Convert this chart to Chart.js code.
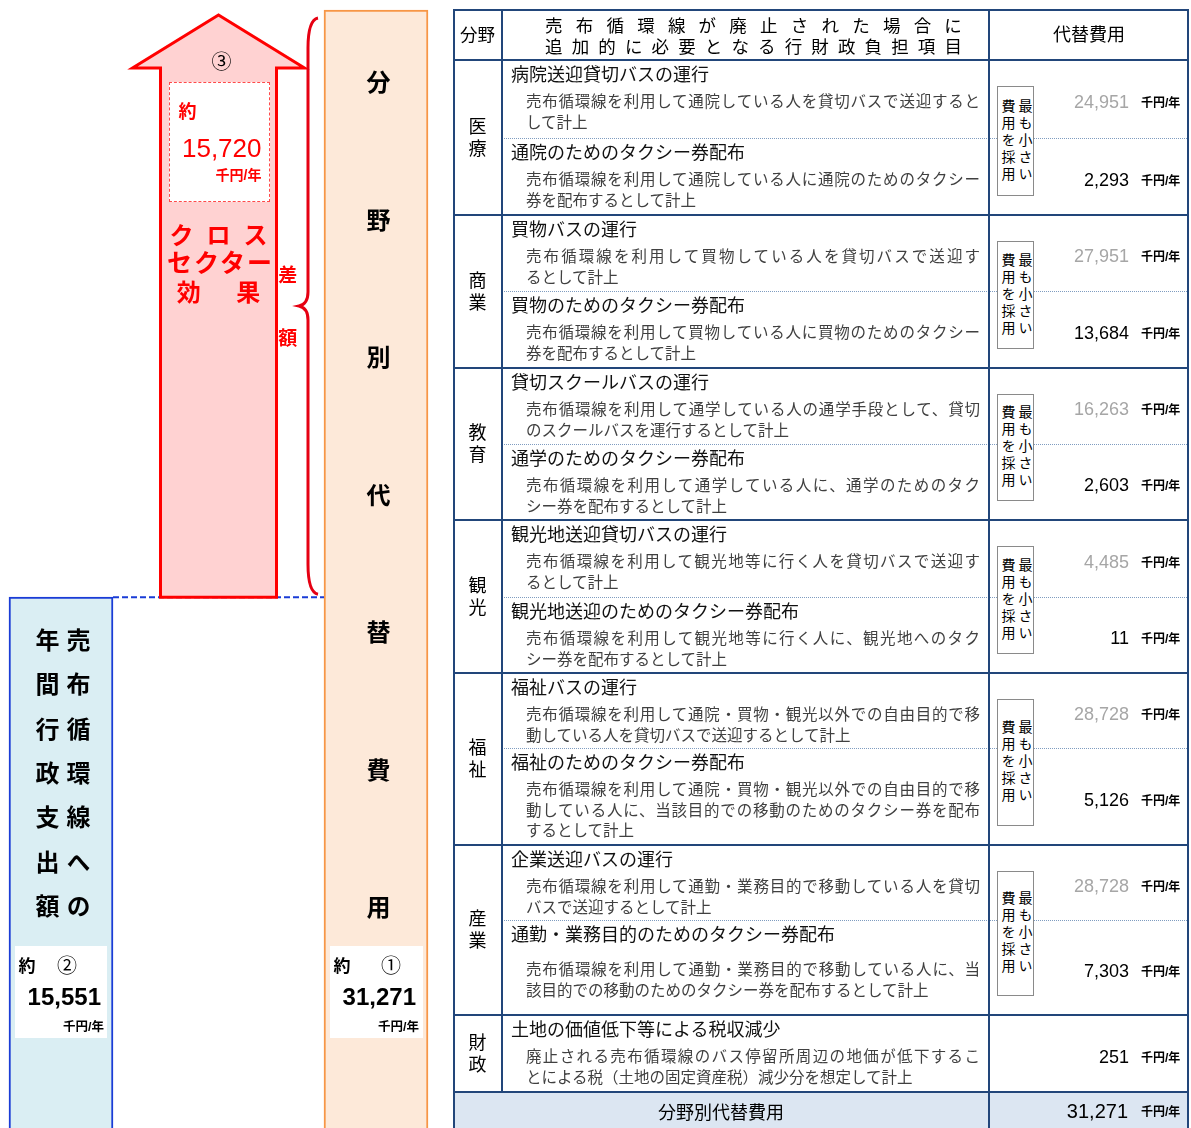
<!DOCTYPE html>
<html lang="ja">
<head>
<meta charset="utf-8">
<script src="https://cdn.jsdelivr.net/npm/chart.js"></script>
<style>
  body { margin: 0; width: 1191px; height: 1128px; overflow: hidden; background: #fff;
         font-family: "Liberation Sans", "Noto Sans CJK JP", sans-serif; color: #000; }
  #chartBox { position: absolute; left: 0; top: 0; width: 440px; height: 1178px; }
  #layer { position: absolute; left: 0; top: 0; width: 1191px; height: 1128px; }
  .abs { position: absolute; box-sizing: border-box; white-space: nowrap; }
  .vert { writing-mode: vertical-rl; text-orientation: upright; }
  .red { color: #ff0000; font-weight: bold; }
  .unit { font-size: 12px; font-weight: bold; }
  .field { display: flex; align-items: center; justify-content: center; text-align: center;
           font-size: 18px; line-height: 22px; }
  .title { font-size: 18px; line-height: 22px; color: #111; }
  .note { font-size: 15.5px; line-height: 20.5px; color: #404040; }
  .note.full { text-align: justify; text-align-last: justify; }
  .spread { display: flex; justify-content: space-between; font-size: 17.5px; line-height: 22px; }
  .pick { border: 1px solid #8a8a8a; background: #fff; display: flex; align-items: center;
          justify-content: center; font-size: 14px; line-height: 17px; letter-spacing: 3px; }
</style>
</head>
<body>
<div id="chartBox"><canvas id="gap" width="440" height="1178"></canvas></div>
<div id="layer"></div>

<script>
// ---- data ----
const fields = ['医療', '商業', '教育', '観光', '福祉', '産業', '財政'];

const itemA = ['病院送迎貸切バスの運行', '買物バスの運行', '貸切スクールバスの運行',
  '観光地送迎貸切バスの運行', '福祉バスの運行', '企業送迎バスの運行', '土地の価値低下等による税収減少'];
const noteA = [
  ['売布循環線を利用して通院している人を貸切バスで送迎すると', 'して計上'],
  ['売布循環線を利用して買物している人を貸切バスで送迎す', 'るとして計上'],
  ['売布循環線を利用して通学している人の通学手段として、貸切', 'のスクールバスを運行するとして計上'],
  ['売布循環線を利用して観光地等に行く人を貸切バスで送迎す', 'るとして計上'],
  ['売布循環線を利用して通院・買物・観光以外での自由目的で移', '動している人を貸切バスで送迎するとして計上'],
  ['売布循環線を利用して通勤・業務目的で移動している人を貸切', 'バスで送迎するとして計上'],
  ['廃止される売布循環線のバス停留所周辺の地価が低下するこ', 'とによる税（土地の固定資産税）減少分を想定して計上']
];
const costA = [24951, 27951, 16263, 4485, 28728, 28728, 251];

const itemB = ['通院のためのタクシー券配布', '買物のためのタクシー券配布', '通学のためのタクシー券配布',
  '観光地送迎のためのタクシー券配布', '福祉のためのタクシー券配布', '通勤・業務目的のためのタクシー券配布', null];
const noteB = [
  ['売布循環線を利用して通院している人に通院のためのタクシー', '券を配布するとして計上'],
  ['売布循環線を利用して買物している人に買物のためのタクシー', '券を配布するとして計上'],
  ['売布循環線を利用して通学している人に、通学のためのタク', 'シー券を配布するとして計上'],
  ['売布循環線を利用して観光地等に行く人に、観光地へのタク', 'シー券を配布するとして計上'],
  ['売布循環線を利用して通院・買物・観光以外での自由目的で移', '動している人に、当該目的での移動のためのタクシー券を配布', 'するとして計上'],
  ['売布循環線を利用して通勤・業務目的で移動している人に、当', '該目的での移動のためのタクシー券を配布するとして計上'],
  null
];
const costB = [2293, 13684, 2603, 11, 5126, 7303, null];

const adminSpending = 15551;   // ② 年間行政支出額
const barLabels = ['売布循環線への年間行政支出額', '差額', '分野別代替費用'];

// the cheaper option is adopted in each field
const adopted = fields.map((f, i) => costB[i] == null ? costA[i] : Math.min(costA[i], costB[i]));
const altTotal = adopted.reduce((a, b) => a + b, 0);   // ① 31,271
const crossSector = altTotal - adminSpending;           // ③ 15,720
const fmt = v => v.toLocaleString('en-US');

// ---- chart: two bars and the difference arrow ----
const gapPlugin = {
  id: 'gapArrow',
  afterDatasetsDraw(chart) {
    const ctx = chart.ctx;
    const ys = chart.scales.y;
    const bars = chart.getDatasetMeta(0).data;
    const arr = chart.getDatasetMeta(1).data[1];
    const lowY = ys.getPixelForValue(adminSpending);
    const highY = ys.getPixelForValue(altTotal);
    ctx.save();

    // dashed level line from the blue bar to the orange bar
    ctx.strokeStyle = '#1a3cd6';
    ctx.lineWidth = 2;
    ctx.setLineDash([6, 3]);
    ctx.beginPath();
    ctx.moveTo(bars[0].x + bars[0].width / 2, lowY);
    ctx.lineTo(bars[2].x - bars[2].width / 2, lowY);
    ctx.stroke();
    ctx.setLineDash([]);

    // arrow (shaft = floating bar, head on top)
    const half = arr.width / 2, tip = highY + 5, neck = tip + 53, wing = 28;
    ctx.beginPath();
    ctx.moveTo(arr.x - half, lowY);
    ctx.lineTo(arr.x - half, neck);
    ctx.lineTo(arr.x - half - wing, neck);
    ctx.lineTo(arr.x, tip);
    ctx.lineTo(arr.x + half + wing, neck);
    ctx.lineTo(arr.x + half, neck);
    ctx.lineTo(arr.x + half, lowY);
    ctx.closePath();
    ctx.fillStyle = '#ffd2d2';
    ctx.fill();
    ctx.strokeStyle = '#ff0000';
    ctx.lineWidth = 3;
    ctx.lineJoin = 'miter';
    ctx.stroke();

    // curly brace next to the orange bar
    const oL = bars[2].x - bars[2].width / 2;
    const xR = oL - 6, xM = oL - 16, xL = oL - 25;
    const yT = highY + 8, yB = lowY - 3, yC = (yT + yB) / 2;
    ctx.beginPath();
    ctx.moveTo(xR, yT);
    ctx.quadraticCurveTo(xM, yT + 2, xM, yT + 30);
    ctx.lineTo(xM, yC - 14);
    ctx.quadraticCurveTo(xM, yC - 2, xL, yC);
    ctx.quadraticCurveTo(xM, yC + 2, xM, yC + 14);
    ctx.lineTo(xM, yB - 30);
    ctx.quadraticCurveTo(xM, yB - 2, xR, yB);
    ctx.strokeStyle = '#e60012';
    ctx.lineWidth = 3;
    ctx.stroke();
    ctx.restore();
  }
};

const chart = new Chart(document.getElementById('gap'), {
  type: 'bar',
  data: {
    labels: barLabels,
    datasets: [
      {
        label: '金額',
        data: [adminSpending, null, altTotal],
        backgroundColor: ['#daeef3', 'rgba(0,0,0,0)', '#fde9d9'],
        borderColor: ['#1a3cd6', 'rgba(0,0,0,0)', '#f79646'],
        borderWidth: 2,
        barThickness: 104,
        grouped: false,
        clip: false
      },
      {
        label: '差額',
        data: [null, [adminSpending, altTotal], null],
        backgroundColor: 'rgba(0,0,0,0)',
        borderWidth: 0,
        barThickness: 116,
        grouped: false,
        clip: false
      }
    ]
  },
  options: {
    responsive: false,
    animation: false,
    events: [],
    layout: { padding: { left: 61, right: 64, top: 10, bottom: 0 } },
    scales: {
      x: { display: false, offset: false },
      y: { display: false, min: 0, max: altTotal }
    },
    plugins: { legend: { display: false }, tooltip: { enabled: false } }
  },
  plugins: [gapPlugin]
});

// ---- text layer ----
const layer = document.getElementById('layer');
function put(cls, l, t, w, h, html, css) {
  const d = document.createElement('div');
  d.className = 'abs ' + (cls || '');
  d.style.left = l + 'px';
  d.style.top = t + 'px';
  if (w != null) d.style.width = w + 'px';
  if (h != null) d.style.height = h + 'px';
  if (html != null) d.innerHTML = html;
  if (css) Object.assign(d.style, css);
  layer.appendChild(d);
  return d;
}
// text anchored at x (l/c/r) and vertical centre y
function txt(x, y, html, css, ax) {
  const d = put('', x, y, null, null, html, css);
  const tx = ax === 'r' ? '-100%' : ax === 'l' ? '0' : '-50%';
  d.style.transform = 'translate(' + tx + ',-50%)';
  return d;
}
function vcol(x, top, str, css) {
  const d = put('vert', x, top, null, null, str, css);
  d.style.transform = 'translateX(-50%)';
  return d;
}

const bars = chart.getDatasetMeta(0).data;
const bx = bars[0].x, ox = bars[2].x;
const ax = chart.getDatasetMeta(1).data[1].x;

// blue bar: 売布循環線への年間行政支出額
const colCss = { fontSize: '24px', fontWeight: 'bold', letterSpacing: '20.3px', lineHeight: '24px' };
vcol(bx + 15, 628, '売布循環線への', colCss);
vcol(bx - 16, 628, '年間行政支出額', colCss);
put('', bx - 46, 946, 92, 92, null, { background: '#fff' });
txt(bx - 34, 964, '約', { fontSize: '17px', fontWeight: 'bold' });
txt(bx + 6, 964, '②', { fontSize: '20px' });
txt(bx + 40, 997, fmt(adminSpending), { fontSize: '24px', fontWeight: 'bold' }, 'r');
txt(bx + 43, 1025, '千円/年', { fontSize: '12.5px', fontWeight: 'bold' }, 'r');

// orange bar: 分野別代替費用
vcol(ox, 70, '分野別代替費用', { fontSize: '24px', fontWeight: 'bold', letterSpacing: '113.5px', lineHeight: '24px' });
put('', ox - 46, 946, 93, 92, null, { background: '#fff' });
txt(ox - 34, 964, '約', { fontSize: '17px', fontWeight: 'bold' });
txt(ox + 15, 964, '①', { fontSize: '20px' });
txt(ox + 40, 997, fmt(altTotal), { fontSize: '24px', fontWeight: 'bold' }, 'r');
txt(ox + 43, 1025, '千円/年', { fontSize: '12.5px', fontWeight: 'bold' }, 'r');

// arrow: クロスセクター効果
txt(ax + 3, 60, '③', { fontSize: '20px' });
put('', ax - 50, 82, 101, 120, null, { background: '#fff', border: '1.5px dashed #ff4a4a' });
txt(ax - 31, 110, '約', { fontSize: '18px', color: '#ff0000', fontWeight: 'bold' });
txt(ax + 43, 148, fmt(crossSector), { fontSize: '26px', color: '#ff0000' }, 'r');
txt(ax + 43, 174, '千円/年', { fontSize: '14px' }, 'r').classList.add('red');
txt(ax, 233, 'クロス', { fontSize: '24px', letterSpacing: '13px', paddingLeft: '13px' }).classList.add('red');
txt(ax + 1, 261, 'セクター', { fontSize: '25px', letterSpacing: '2px', paddingLeft: '2px' }).classList.add('red');
txt(ax, 290, '効果', { fontSize: '24px', letterSpacing: '35.5px', paddingLeft: '35.5px' }).classList.add('red');
const sagakuX = (ax + 58 + ox - 52 - 25) / 2;
txt(sagakuX, 273, '差', { fontSize: '19px' }).classList.add('red');
txt(sagakuX, 336, '額', { fontSize: '19px' }).classList.add('red');

// ---- table on the right ----
const X0 = 453, X1 = 502, X2 = 989, X3 = 1189, TOP = 10, HEAD = 60;
const LINE = '#22467a';
const subRowH = [[78, 77], [76, 77], [76, 76], [77, 76], [75, 97], [75, 95], [77]];
const noteShift = [[0, 0], [0, 0], [0, 0], [0, 0], [0, 0], [0, 8], [0]];

// header
put('field', X0, TOP, X1 - X0, HEAD - TOP, '分野', { fontSize: '17.5px' });
const h1 = put('spread', 545, 15, 417, 22, '');
'売布循環線が廃止された場合に'.split('').forEach(c => h1.innerHTML += '<span>' + c + '</span>');
const h2 = put('spread', 545, 36, 417, 22, '');
'追加的に必要となる行財政負担項目'.split('').forEach(c => h2.innerHTML += '<span>' + c + '</span>');
put('field', X2, TOP, X3 - X2, HEAD - TOP, '代替費用');

const lines = [];
let y = HEAD;
fields.forEach((f, i) => {
  const hs = subRowH[i];
  const fieldH = hs.reduce((a, b) => a + b, 0);
  put('field', X0, y, X1 - X0, fieldH, f.split('').join('<br>'));
  const rows = [{ title: itemA[i], notes: noteA[i], cost: costA[i] }];
  if (itemB[i]) rows.push({ title: itemB[i], notes: noteB[i], cost: costB[i] });
  let ry = y;
  rows.forEach((r, k) => {
    const rh = hs[k];
    if (k > 0) lines.push({ l: X1, t: ry, w: X3 - X1, h: 0, dotted: true });
    put('title', X1 + 9, ry + 4, null, null, r.title);
    r.notes.forEach((ln, n) => {
      const last = n === r.notes.length - 1;
      put('note' + (last ? '' : ' full'), 526, ry + 32 + noteShift[i][k] + n * 20.5, 454, null, ln);
    });
    const grey = rows.length > 1 && r.cost !== adopted[i];
    const cy = ry + rh / 2 + 3;
    txt(1129, cy, fmt(r.cost), { fontSize: '18px', color: grey ? '#a6a6a6' : '#000' }, 'r');
    txt(1141, cy - 1, '千円/年', {}, 'l').classList.add('unit');
    ry += rh;
  });
  if (rows.length > 1) {
    put('pick', 997, y + 26, 37, fieldH - 45,
      '<div class="vert">最も小さい<br>費用を採用</div>');
  }
  y += fieldH;
  lines.push({ l: X0, t: y - 1, w: X3 - X0, h: 2 });
});

// total row
put('', X0, y, X3 - X0, 40, null, { background: '#dce6f2', zIndex: -1 });
txt((X0 + X2) / 2, y + 19, '分野別代替費用', { fontSize: '18px' });
txt(1128, y + 19, fmt(altTotal), { fontSize: '20px' }, 'r');
txt(1141, y + 18, '千円/年', {}, 'l').classList.add('unit');

// grid lines
lines.forEach(s => {
  if (s.dotted) put('', s.l, s.t, s.w, 1, null, { borderTop: '1px dotted #7f9cc0', zIndex: -1 });
  else put('', s.l, s.t, s.w, s.h, null, { background: LINE });
});
put('', X0, TOP - 1, X3 - X0, 2, null, { background: LINE });
put('', X0, HEAD - 1, X3 - X0, 2, null, { background: LINE });
put('', X0, TOP - 1, 2, 1128, null, { background: LINE });
put('', X1 - 1, TOP, 1.5, y - TOP, null, { background: LINE });
put('', X2 - 1, TOP, 2, 1128, null, { background: LINE });
put('', X3 - 2, TOP - 1, 2, 1128, null, { background: LINE });
</script>
</body>
</html>
